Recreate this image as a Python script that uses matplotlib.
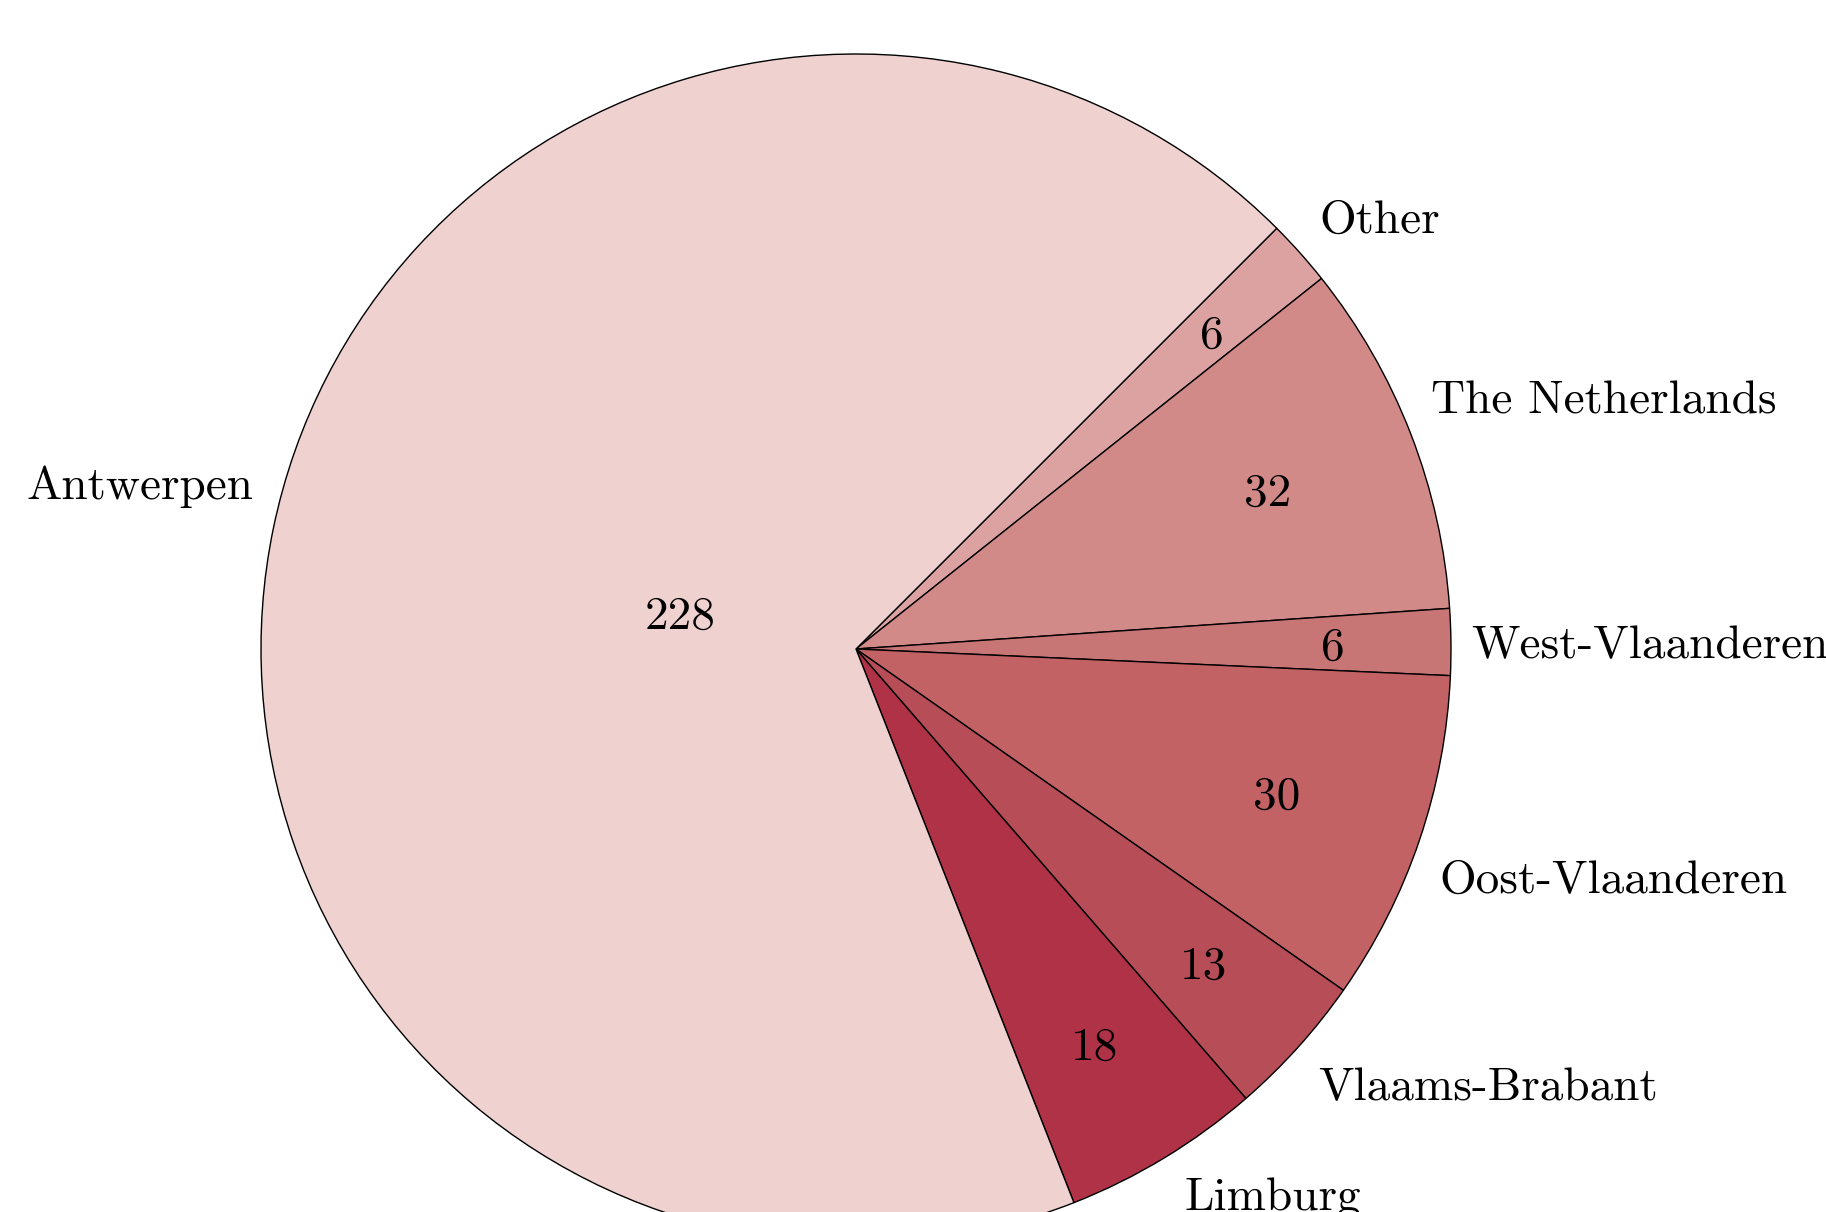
import numpy as np
import matplotlib
matplotlib.use("Agg")
import matplotlib.pyplot as plt

plt.rcParams['font.family'] = ['cmr10', 'DejaVu Serif']
plt.rcParams['axes.unicode_minus'] = False

# ── Données ──────────────────────────────────────────────────────────────────
regions = ["Other", "The Netherlands", "West-Vlaanderen", "Oost-Vlaanderen",
           "Vlaams-Brabant", "Limburg", "Antwerpen"]
counts = [6, 32, 6, 30, 13, 18, 228]
colors = ["#DCA2A1", "#D28A89", "#C87576", "#C26264",
          "#B74D56", "#AF3246", "#EFD1D0"]

FS = 34
PAD = 14.4   # points, ~20 px

fig = plt.figure(figsize=(18.26, 12.12), dpi=100)
ax = fig.add_axes([0, 0, 1, 1])

wedges, _ = ax.pie(counts, colors=colors, startangle=45, counterclock=False,
                   radius=1.0,
                   wedgeprops=dict(edgecolor='black', linewidth=1.0))

total = float(sum(counts))
for w, lab, n in zip(wedges, regions, counts):
    mid = np.deg2rad(0.5 * (w.theta1 + w.theta2))
    c, s = np.cos(mid), np.sin(mid)

    # valeur à l'intérieur : plus proche du centre pour les grosses parts
    r_in = 0.815 - 0.75 * n / total
    ax.text(r_in * c, r_in * s, str(n), fontsize=FS,
            ha='center', va='center_baseline')

    # étiquette à l'extérieur, ancrée sur le bord du disque
    ha = 'left' if c > 0 else 'right'
    dx = PAD if c > 0 else -PAD
    if s > 0.1:
        va = 'bottom' if any(ch in lab for ch in "gjpqy") else 'baseline'
        dy = PAD
    elif s < -0.1:
        va, dy = 'top', -PAD
    else:
        va, dy = 'center_baseline', 0
    ax.annotate(lab, xy=(c, s), xytext=(dx, dy), textcoords='offset points',
                fontsize=FS, ha=ha, va=va, annotation_clip=False)

ax.set_aspect('auto')
ax.set_xlim(-856 / 595, (1826 - 856) / 595)
ax.set_ylim(-(1212 - 649) / 595, 649 / 595)
ax.axis('off')

plt.savefig("out.png", dpi=100)
plt.close()
